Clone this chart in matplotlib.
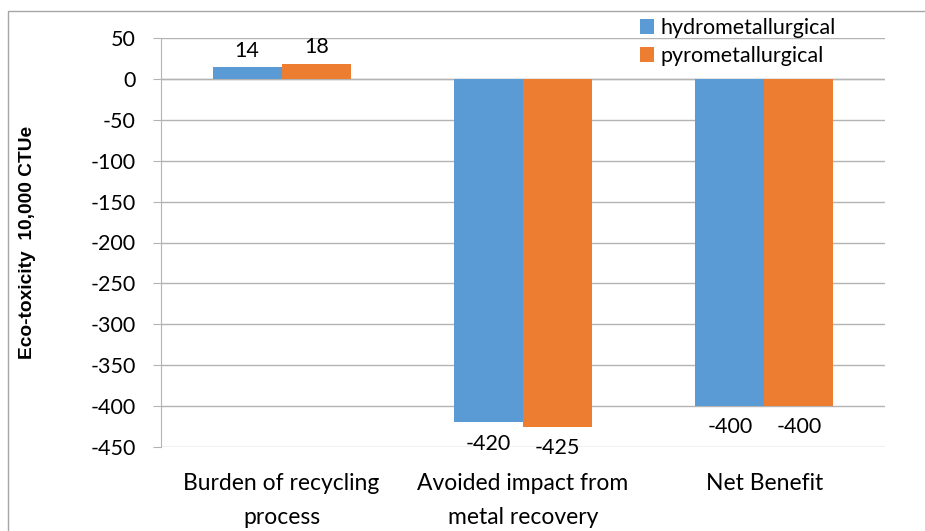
import matplotlib.pyplot as plt
from matplotlib.patches import Rectangle
import numpy as np

categories = ["Burden of recycling\nprocess", "Avoided impact from\nmetal recovery", "Net Benefit"]
series_names = ["hydrometallurgical", "pyrometallurgical"]
hydro = [14, -420, -400]
pyro = [18, -425, -400]
y_ticks = list(range(-450, 51, 50))

blue = "#5B9BD5"
orange = "#ED7D31"
grid_c = "#B3B3B3"
font = ["Lato", "DejaVu Sans"]
fs = 15.5

fig = plt.figure(figsize=(9.25, 5.31), dpi=100)
ax = fig.add_axes([161 / 925, 1 - 447 / 531, (885 - 161) / 925, (447 - 38) / 531])

x = np.arange(len(categories))
w = 0.286
b1 = ax.bar(x - w / 2, hydro, w, color=blue, label=series_names[0], zorder=3)
b2 = ax.bar(x + w / 2, pyro, w, color=orange, label=series_names[1], zorder=3)

for bars, vals in ((b1, hydro), (b2, pyro)):
    for rect, v in zip(bars, vals):
        cx = rect.get_x() + rect.get_width() / 2
        if v >= 0:
            ax.annotate(f"{v}", (cx, v), xytext=(0, 5), textcoords="offset points",
                        ha="center", va="bottom", fontsize=fs, family=font)
        else:
            ax.annotate(f"{v}", (cx, v), xytext=(0, -8), textcoords="offset points",
                        ha="center", va="top", fontsize=fs, family=font)

ax.set_xlim(-0.5, len(categories) - 0.5)
ax.set_ylim(-450, 50)
ax.set_yticks(y_ticks)
ax.set_yticklabels([str(t) for t in y_ticks], family=font, fontsize=fs)
ax.yaxis.grid(True, color=grid_c, linewidth=1, zorder=0)
ax.axhline(0, color=grid_c, linewidth=1, zorder=1)
ax.tick_params(axis="y", direction="out", length=6, color=grid_c, pad=12)
ax.set_xticks(x)
ax.set_xticklabels(categories, family=font, fontsize=16.5, linespacing=1.75)
ax.tick_params(axis="x", length=0, pad=19)
for s in ("top", "right", "bottom"):
    ax.spines[s].set_visible(False)
ax.spines["left"].set_color(grid_c)

ax.set_ylabel("Eco-toxicity  10,000 CTUe", family=["Liberation Sans", "DejaVu Sans"],
              fontsize=13.8, fontweight="bold")
ax.yaxis.set_label_coords((36 - 161) / 724, 0.5)

leg = fig.legend(handles=[b1, b2], labels=series_names, loc="upper left",
                 bbox_to_anchor=(640 / 925, 1 - 18 / 531), frameon=False,
                 prop={"family": font, "size": fs}, handlelength=0.65,
                 handleheight=0.65, handletextpad=0.28, labelspacing=0.37,
                 borderaxespad=0, borderpad=0)

fig.patches.append(Rectangle((8 / 925, -0.1), 1.2, 1 - 11 / 531 + 0.1,
                             transform=fig.transFigure, fill=False,
                             edgecolor="#A6A6A6", linewidth=1))

fig.savefig("out.png", dpi=100)
